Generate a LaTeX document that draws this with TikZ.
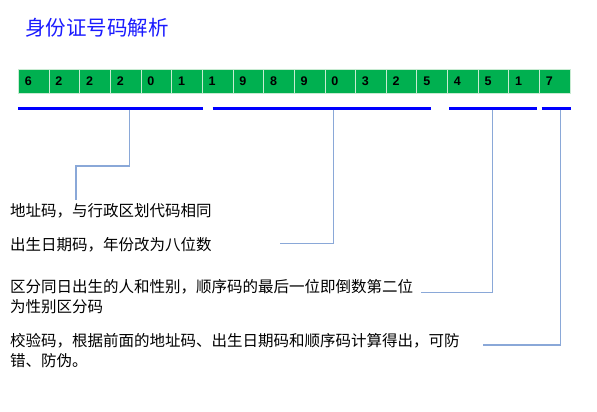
\documentclass[tikz,border=0pt]{standalone}
\usepackage{fontspec}
\newfontfamily\cjk{Noto Sans CJK SC}
\newfontfamily\digf{Liberation Sans}
\definecolor{cellgreen}{HTML}{00B050}
\definecolor{cellline}{HTML}{C8EBD2}
\definecolor{bracketblue}{HTML}{0000FF}
\definecolor{connblue}{HTML}{8AA8D8}
\definecolor{titleblue}{HTML}{1A1AFF}
\begin{document}
\begin{tikzpicture}[x=1pt,y=-1pt,
  cell/.style={draw=cellline, fill=cellgreen, line width=0.6pt, minimum width=30.65pt, minimum height=24.3pt, inner sep=0pt, outer sep=0pt, anchor=north west},
  digit/.style={font=\digf\bfseries\fontsize{12.5}{14}\selectfont, text=black, inner sep=0pt},
  bracket/.style={draw=bracketblue, line width=3pt},
  conn/.style={draw=connblue, line width=1.2pt},
  note/.style={font=\cjk\fontsize{15.5}{20}\selectfont, anchor=west, inner sep=0pt, align=left, text=black},
  title/.style={font=\cjk\fontsize{20.5}{24}\selectfont, anchor=west, inner sep=0pt, text=titleblue}]
\useasboundingbox[fill=white] (0,0) rectangle (597,412);

\node[title] (title) at (25,28) {身份证号码解析};

% digit cells
\foreach \d [count=\i] in {6,2,2,2,0,1,1,9,8,9,0,3,2,5,4,5,1,7} {
  \node[cell] (c\i) at ({18.3+30.65*(\i-1)},69) {};
  \node[digit] (d\i) at ([xshift=10pt]c\i.west) {\d};
}

% brackets
\coordinate (s1a) at (18,108.3);  \coordinate (s1b) at (202.5,108.3);
\coordinate (s2a) at (212.5,108.3); \coordinate (s2b) at (430.7,108.3);
\coordinate (s3a) at (449.3,108.3); \coordinate (s3b) at (536.7,108.3);
\coordinate (s4a) at (541.7,108.3); \coordinate (s4b) at (570.7,108.3);
\draw[bracket] (s1a) -- (s1b);
\draw[bracket] (s2a) -- (s2b);
\draw[bracket] (s3a) -- (s3b);
\draw[bracket] (s4a) -- (s4b);

% texts
\node[note] (t1) at (10,210.7) {地址码，与行政区划代码相同};
\node[note] (t2) at (10,245) {出生日期码，年份改为八位数};
\node[note] (t3) at (10,296.3) {区分同日出生的人和性别，顺序码的最后一位即倒数第二位\\为性别区分码};
\node[note] (t4) at (10,350.3) {校验码，根据前面的地址码、出生日期码和顺序码计算得出，可防\\错、防伪。};

% connectors
\coordinate (b1) at (129.3,109.8);
\coordinate (b2) at (333.7,109.8);
\coordinate (b3) at (492.7,109.8);
\coordinate (b4) at (560.7,109.8);
\coordinate (e1) at (76,200);
\coordinate (e2) at (280.3,243.3);
\coordinate (e3) at (420.7,292.3);
\coordinate (e4) at (483.3,345);
\draw[conn] (b1) -- ++(0,56.2) -| (e1);
\draw[conn] (b2) |- (e2);
\draw[conn] (b3) |- (e3);
\draw[conn] (b4) |- (e4);
\end{tikzpicture}
\end{document}
